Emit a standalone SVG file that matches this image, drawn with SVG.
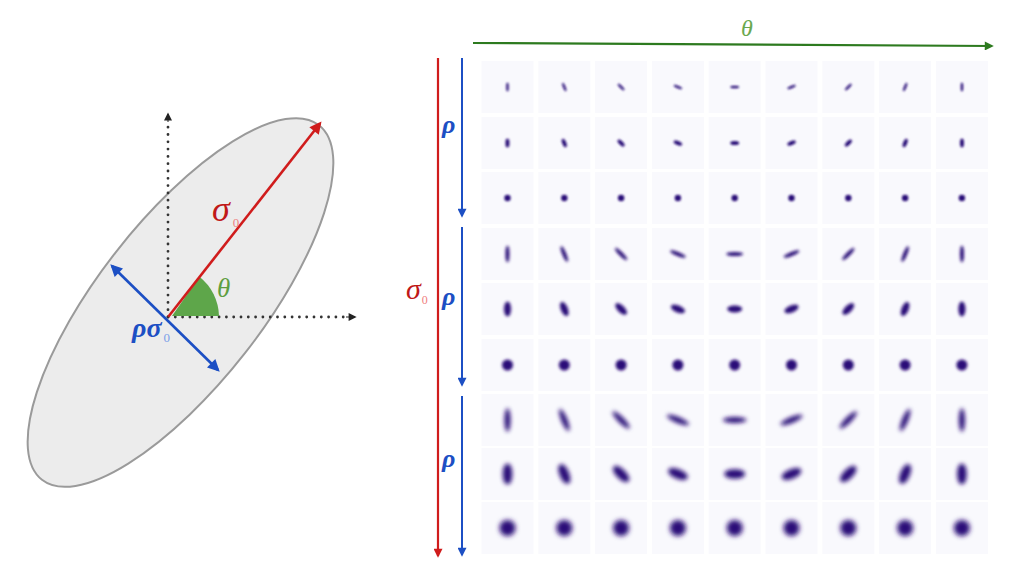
<svg xmlns="http://www.w3.org/2000/svg" xmlns:xlink="http://www.w3.org/1999/xlink" width="1024" height="576" viewBox="0 0 1024 576">
<style>
.sym{font-family:"Liberation Serif","DejaVu Serif",serif;font-style:italic}
.tile{fill:#f9f9fd}
.blob{fill:#2a0f78}
.dot{stroke:#333;stroke-width:2.8;stroke-linecap:round;stroke-dasharray:0 7.3;fill:none}
</style>
<defs>
<marker id="mRed" viewBox="0 0 10 10" refX="8" refY="5" markerWidth="14" markerHeight="12" markerUnits="userSpaceOnUse" orient="auto-start-reverse"><path d="M0,0 L10,5 L0,10 z" fill="#d01c1c"/></marker>
<marker id="mBlue" viewBox="0 0 10 10" refX="8" refY="5" markerWidth="14" markerHeight="12" markerUnits="userSpaceOnUse" orient="auto-start-reverse"><path d="M0,0 L10,5 L0,10 z" fill="#1c4fc4"/></marker>
<marker id="mBlueS" viewBox="0 0 10 10" refX="8" refY="5" markerWidth="11" markerHeight="9" markerUnits="userSpaceOnUse" orient="auto-start-reverse"><path d="M0,0 L10,5 L0,10 z" fill="#1c4fc4"/></marker>
<marker id="mRedS" viewBox="0 0 10 10" refX="8" refY="5" markerWidth="11" markerHeight="9" markerUnits="userSpaceOnUse" orient="auto-start-reverse"><path d="M0,0 L10,5 L0,10 z" fill="#d01c1c"/></marker>
<marker id="mGreen" viewBox="0 0 10 10" refX="8" refY="5" markerWidth="12" markerHeight="9" markerUnits="userSpaceOnUse" orient="auto"><path d="M0,0 L10,5 L0,10 z" fill="#2d7a1f"/></marker>
<marker id="mBlack" viewBox="0 0 10 10" refX="8" refY="5" markerWidth="9" markerHeight="8" markerUnits="userSpaceOnUse" orient="auto"><path d="M0,0 L10,5 L0,10 z" fill="#222"/></marker>
<filter id="f1" x="-100%" y="-100%" width="300%" height="300%"><feGaussianBlur stdDeviation="1"/></filter>
<filter id="f2" x="-100%" y="-100%" width="300%" height="300%"><feGaussianBlur stdDeviation="1.5"/></filter>
<filter id="f25" x="-100%" y="-100%" width="300%" height="300%"><feGaussianBlur stdDeviation="2.1"/></filter>
<filter id="f3" x="-100%" y="-100%" width="300%" height="300%"><feGaussianBlur stdDeviation="2.7"/></filter>
<ellipse id="r0" class="blob" rx="4.5" ry="1.3" filter="url(#f1)"/>
<ellipse id="r1" class="blob" rx="4.5" ry="2" filter="url(#f1)"/>
<ellipse id="r2" class="blob" rx="3.2" ry="3.2" filter="url(#f1)"/>
<ellipse id="r3" class="blob" rx="8.5" ry="2" filter="url(#f2)"/>
<ellipse id="r4" class="blob" rx="7.5" ry="3.4" filter="url(#f2)"/>
<ellipse id="r5" class="blob" rx="5.5" ry="5.5" filter="url(#f2)"/>
<ellipse id="r6" class="blob" rx="12" ry="2.9" filter="url(#f25)"/>
<ellipse id="r7" class="blob" rx="10.5" ry="4.8" filter="url(#f25)"/>
<ellipse id="r8" class="blob" rx="8" ry="8" filter="url(#f3)"/>
<g id="row">
<rect class="tile" x="481.5" y="-26" width="52" height="52"/>
<rect class="tile" x="538.3" y="-26" width="52" height="52"/>
<rect class="tile" x="595.1" y="-26" width="52" height="52"/>
<rect class="tile" x="651.9" y="-26" width="52" height="52"/>
<rect class="tile" x="708.7" y="-26" width="52" height="52"/>
<rect class="tile" x="765.5" y="-26" width="52" height="52"/>
<rect class="tile" x="822.3" y="-26" width="52" height="52"/>
<rect class="tile" x="879.1" y="-26" width="52" height="52"/>
<rect class="tile" x="935.9" y="-26" width="52" height="52"/>
</g>
</defs>
<rect width="1024" height="576" fill="#ffffff"/>

<g id="ellipse-node">
<ellipse cx="180.5" cy="302.5" rx="225" ry="82" transform="rotate(-52 180.5 302.5)" fill="#ececec" stroke="#9a9a9a" stroke-width="2"/>
</g>
<g id="axes">
<line class="dot" x1="168" y1="317" x2="168" y2="120"/>
<line class="dot" x1="168" y1="317" x2="347" y2="317"/>
<line x1="168" y1="122" x2="168" y2="114" stroke="#222" stroke-width="1" marker-end="url(#mBlack)"/>
<line x1="346" y1="317" x2="355" y2="317" stroke="#222" stroke-width="1" marker-end="url(#mBlack)"/>
</g>
<g id="angle-wedge">
<path d="M172,316 L219,316 A51,51 0 0 0 199.4,276.8 Z" fill="#5ea64a"/>
</g>
<g id="connectors">
<line x1="168.3" y1="316.7" x2="320" y2="123.5" stroke="#d01c1c" stroke-width="2.6" marker-end="url(#mRed)"/>
<line x1="112" y1="266" x2="218" y2="370" stroke="#1c4fc4" stroke-width="2.6" marker-start="url(#mBlue)" marker-end="url(#mBlue)"/>
<line x1="473" y1="43" x2="992" y2="46" stroke="#2d7a1f" stroke-width="2.2" marker-end="url(#mGreen)"/>
<line x1="438" y1="58" x2="438" y2="556" stroke="#d01c1c" stroke-width="2.2" marker-end="url(#mRedS)"/>
<line x1="462" y1="58" x2="462" y2="216" stroke="#1c4fc4" stroke-width="2" marker-end="url(#mBlueS)"/>
<line x1="462" y1="227" x2="462" y2="385" stroke="#1c4fc4" stroke-width="2" marker-end="url(#mBlueS)"/>
<line x1="462" y1="396" x2="462" y2="555" stroke="#1c4fc4" stroke-width="2" marker-end="url(#mBlueS)"/>
</g>
<g id="left-labels">
<text class="sym" x="212" y="221" font-size="36" fill="#c01818">σ<tspan font-size="13" font-style="normal" fill="#f08080" dx="3" dy="6">0</tspan></text>
<text class="sym" x="217" y="297" font-size="27" fill="#5e9e40">θ</text>
<text class="sym" x="132" y="337" font-size="28" fill="#1c4fc4" font-weight="bold">ρσ<tspan font-size="13" font-style="normal" font-weight="normal" fill="#7aa0e8" dx="2" dy="5">0</tspan></text>
</g>
<g id="right-labels">
<text class="sym" x="741" y="36" font-size="24" fill="#6aa84f">θ</text>
<text class="sym" x="442" y="133" font-size="26" font-weight="bold" fill="#1c4fc4">ρ</text>
<text class="sym" x="442" y="305" font-size="26" font-weight="bold" fill="#1c4fc4">ρ</text>
<text class="sym" x="442" y="467" font-size="26" font-weight="bold" fill="#1c4fc4">ρ</text>
<text class="sym" x="406" y="299" font-size="30" fill="#c01818">σ<tspan font-size="12" font-style="normal" fill="#f08080" dx="1" dy="5">0</tspan></text>
</g>

<g id="grid-tiles">
<use xlink:href="#row" transform="translate(0,87)"/>
<use xlink:href="#row" transform="translate(0,143)"/>
<use xlink:href="#row" transform="translate(0,198)"/>
<use xlink:href="#row" transform="translate(0,254)"/>
<use xlink:href="#row" transform="translate(0,309)"/>
<use xlink:href="#row" transform="translate(0,365)"/>
<use xlink:href="#row" transform="translate(0,420)"/>
<use xlink:href="#row" transform="translate(0,474)"/>
<use xlink:href="#row" transform="translate(0,528)"/>
</g>
<g id="grid-blobs">
<use xlink:href="#r0" transform="translate(507.5,87) rotate(90)"/><use xlink:href="#r0" transform="translate(564.3,87) rotate(67.5)"/><use xlink:href="#r0" transform="translate(621.1,87) rotate(45)"/><use xlink:href="#r0" transform="translate(677.9,87) rotate(22.5)"/><use xlink:href="#r0" transform="translate(734.7,87) rotate(0)"/><use xlink:href="#r0" transform="translate(791.5,87) rotate(-22.5)"/><use xlink:href="#r0" transform="translate(848.3,87) rotate(-45)"/><use xlink:href="#r0" transform="translate(905.1,87) rotate(-67.5)"/><use xlink:href="#r0" transform="translate(961.9,87) rotate(-90)"/>
<use xlink:href="#r1" transform="translate(507.5,143) rotate(90)"/><use xlink:href="#r1" transform="translate(564.3,143) rotate(67.5)"/><use xlink:href="#r1" transform="translate(621.1,143) rotate(45)"/><use xlink:href="#r1" transform="translate(677.9,143) rotate(22.5)"/><use xlink:href="#r1" transform="translate(734.7,143) rotate(0)"/><use xlink:href="#r1" transform="translate(791.5,143) rotate(-22.5)"/><use xlink:href="#r1" transform="translate(848.3,143) rotate(-45)"/><use xlink:href="#r1" transform="translate(905.1,143) rotate(-67.5)"/><use xlink:href="#r1" transform="translate(961.9,143) rotate(-90)"/>
<use xlink:href="#r2" transform="translate(507.5,198)"/><use xlink:href="#r2" transform="translate(564.3,198)"/><use xlink:href="#r2" transform="translate(621.1,198)"/><use xlink:href="#r2" transform="translate(677.9,198)"/><use xlink:href="#r2" transform="translate(734.7,198)"/><use xlink:href="#r2" transform="translate(791.5,198)"/><use xlink:href="#r2" transform="translate(848.3,198)"/><use xlink:href="#r2" transform="translate(905.1,198)"/><use xlink:href="#r2" transform="translate(961.9,198)"/>
<use xlink:href="#r3" transform="translate(507.5,254) rotate(90)"/><use xlink:href="#r3" transform="translate(564.3,254) rotate(67.5)"/><use xlink:href="#r3" transform="translate(621.1,254) rotate(45)"/><use xlink:href="#r3" transform="translate(677.9,254) rotate(22.5)"/><use xlink:href="#r3" transform="translate(734.7,254) rotate(0)"/><use xlink:href="#r3" transform="translate(791.5,254) rotate(-22.5)"/><use xlink:href="#r3" transform="translate(848.3,254) rotate(-45)"/><use xlink:href="#r3" transform="translate(905.1,254) rotate(-67.5)"/><use xlink:href="#r3" transform="translate(961.9,254) rotate(-90)"/>
<use xlink:href="#r4" transform="translate(507.5,309) rotate(90)"/><use xlink:href="#r4" transform="translate(564.3,309) rotate(67.5)"/><use xlink:href="#r4" transform="translate(621.1,309) rotate(45)"/><use xlink:href="#r4" transform="translate(677.9,309) rotate(22.5)"/><use xlink:href="#r4" transform="translate(734.7,309) rotate(0)"/><use xlink:href="#r4" transform="translate(791.5,309) rotate(-22.5)"/><use xlink:href="#r4" transform="translate(848.3,309) rotate(-45)"/><use xlink:href="#r4" transform="translate(905.1,309) rotate(-67.5)"/><use xlink:href="#r4" transform="translate(961.9,309) rotate(-90)"/>
<use xlink:href="#r5" transform="translate(507.5,365)"/><use xlink:href="#r5" transform="translate(564.3,365)"/><use xlink:href="#r5" transform="translate(621.1,365)"/><use xlink:href="#r5" transform="translate(677.9,365)"/><use xlink:href="#r5" transform="translate(734.7,365)"/><use xlink:href="#r5" transform="translate(791.5,365)"/><use xlink:href="#r5" transform="translate(848.3,365)"/><use xlink:href="#r5" transform="translate(905.1,365)"/><use xlink:href="#r5" transform="translate(961.9,365)"/>
<use xlink:href="#r6" transform="translate(507.5,420) rotate(90)"/><use xlink:href="#r6" transform="translate(564.3,420) rotate(67.5)"/><use xlink:href="#r6" transform="translate(621.1,420) rotate(45)"/><use xlink:href="#r6" transform="translate(677.9,420) rotate(22.5)"/><use xlink:href="#r6" transform="translate(734.7,420) rotate(0)"/><use xlink:href="#r6" transform="translate(791.5,420) rotate(-22.5)"/><use xlink:href="#r6" transform="translate(848.3,420) rotate(-45)"/><use xlink:href="#r6" transform="translate(905.1,420) rotate(-67.5)"/><use xlink:href="#r6" transform="translate(961.9,420) rotate(-90)"/>
<use xlink:href="#r7" transform="translate(507.5,474) rotate(90)"/><use xlink:href="#r7" transform="translate(564.3,474) rotate(67.5)"/><use xlink:href="#r7" transform="translate(621.1,474) rotate(45)"/><use xlink:href="#r7" transform="translate(677.9,474) rotate(22.5)"/><use xlink:href="#r7" transform="translate(734.7,474) rotate(0)"/><use xlink:href="#r7" transform="translate(791.5,474) rotate(-22.5)"/><use xlink:href="#r7" transform="translate(848.3,474) rotate(-45)"/><use xlink:href="#r7" transform="translate(905.1,474) rotate(-67.5)"/><use xlink:href="#r7" transform="translate(961.9,474) rotate(-90)"/>
<use xlink:href="#r8" transform="translate(507.5,528)"/><use xlink:href="#r8" transform="translate(564.3,528)"/><use xlink:href="#r8" transform="translate(621.1,528)"/><use xlink:href="#r8" transform="translate(677.9,528)"/><use xlink:href="#r8" transform="translate(734.7,528)"/><use xlink:href="#r8" transform="translate(791.5,528)"/><use xlink:href="#r8" transform="translate(848.3,528)"/><use xlink:href="#r8" transform="translate(905.1,528)"/><use xlink:href="#r8" transform="translate(961.9,528)"/>
</g>
</svg>
